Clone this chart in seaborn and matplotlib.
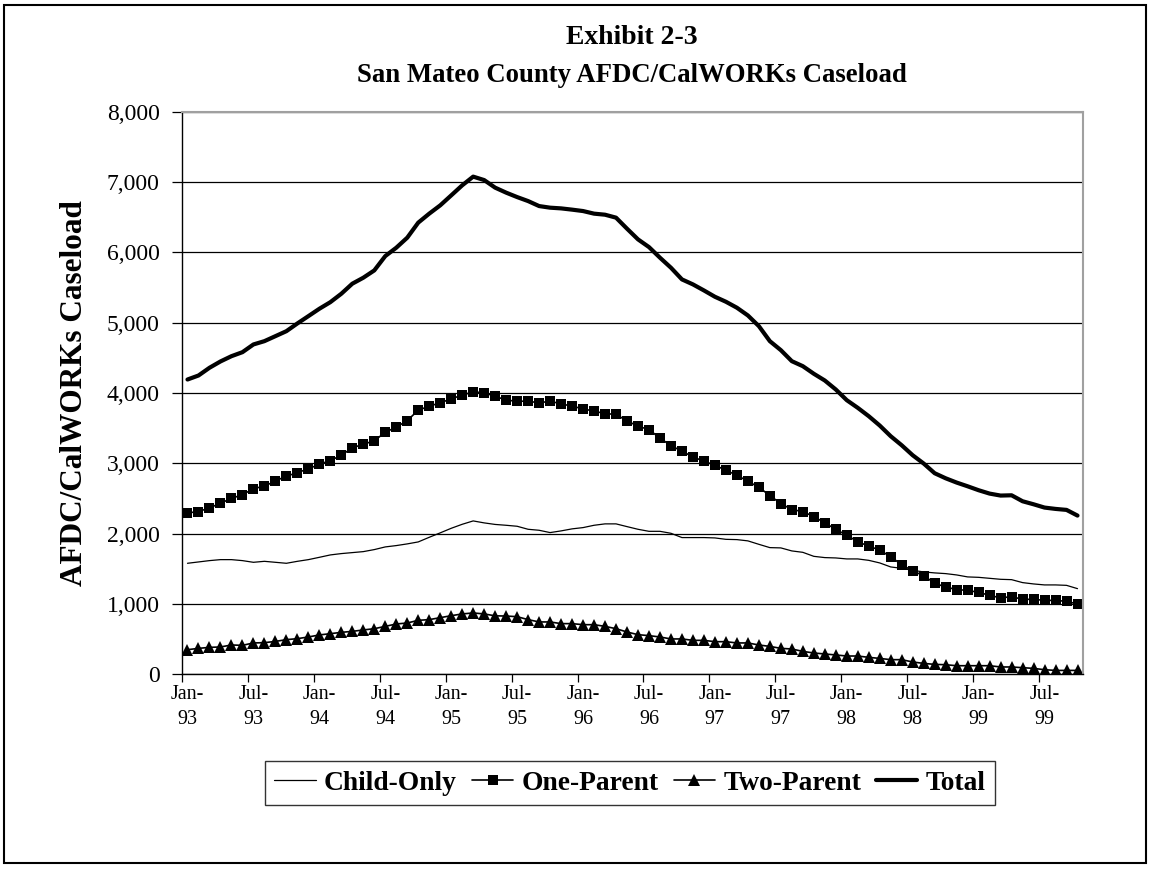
import pandas as pd
import matplotlib
matplotlib.use("Agg")
import matplotlib.pyplot as plt
from matplotlib.patches import Rectangle
from matplotlib.ticker import FuncFormatter
import seaborn as sns

# Monthly caseload, Jan-93 to Oct-99
months = pd.date_range("1993-01-01", periods=82, freq="MS").strftime("%b-%y").tolist()

child_only = [1576, 1595, 1614, 1628, 1628, 1614, 1590, 1604, 1590, 1576,
              1604, 1628, 1661, 1695, 1714, 1728, 1742, 1771, 1809, 1828,
              1852, 1880, 1946, 2009, 2074, 2131, 2179, 2151, 2129, 2117,
              2103, 2060, 2046, 2013, 2037, 2066, 2084, 2117, 2137, 2137,
              2098, 2060, 2031, 2031, 2003, 1942, 1942, 1942, 1937, 1917,
              1913, 1895, 1846, 1799, 1795, 1752, 1732, 1675, 1657, 1652,
              1638, 1638, 1618, 1581, 1524, 1504, 1476, 1453, 1439, 1429,
              1410, 1382, 1376, 1362, 1348, 1343, 1301, 1282, 1268, 1268,
              1262, 1215]
one_parent = [2293, 2312, 2365, 2430, 2501, 2550, 2640, 2672, 2749, 2815,
              2867, 2920, 2986, 3038, 3114, 3219, 3271, 3319, 3442, 3513,
              3608, 3755, 3812, 3860, 3917, 3969, 4017, 4003, 3954, 3898,
              3883, 3883, 3860, 3883, 3846, 3812, 3775, 3741, 3708, 3694,
              3604, 3527, 3480, 3356, 3252, 3171, 3091, 3028, 2972, 2900,
              2829, 2744, 2658, 2540, 2426, 2341, 2312, 2241, 2151, 2060,
              1974, 1885, 1818, 1766, 1667, 1557, 1467, 1400, 1291, 1239,
              1201, 1191, 1162, 1120, 1083, 1101, 1063, 1063, 1048, 1048,
              1034, 997]
two_parent = [346, 365, 379, 385, 413, 408, 442, 446, 464, 489,
              503, 527, 556, 574, 593, 607, 627, 645, 678, 712,
              726, 764, 774, 802, 830, 855, 869, 855, 828, 825,
              816, 774, 741, 741, 717, 717, 702, 702, 678, 645,
              598, 560, 546, 527, 499, 499, 479, 479, 460, 460,
              442, 442, 413, 393, 365, 356, 322, 299, 285, 271,
              256, 256, 237, 222, 204, 204, 171, 151, 137, 132,
              118, 118, 118, 118, 100, 100, 90, 80, 61, 51,
              51, 51]
total = [4192, 4249, 4359, 4449, 4524, 4581, 4691, 4738, 4809, 4880,
         4990, 5094, 5199, 5293, 5413, 5556, 5641, 5745, 5949, 6068,
         6211, 6425, 6553, 6671, 6813, 6956, 7080, 7031, 6923, 6852,
         6789, 6732, 6661, 6638, 6628, 6610, 6590, 6553, 6538, 6496,
         6339, 6187, 6077, 5926, 5783, 5617, 5546, 5460, 5370, 5299,
         5214, 5104, 4952, 4738, 4610, 4453, 4382, 4274, 4178, 4050,
         3898, 3789, 3670, 3537, 3385, 3256, 3114, 2996, 2858, 2786,
         2725, 2672, 2616, 2568, 2540, 2544, 2459, 2416, 2369, 2350,
         2336, 2255]

y_ticks = [0, 1000, 2000, 3000, 4000, 5000, 6000, 7000, 8000]

sns.set_style("white")
plt.rcParams["font.family"] = ["Liberation Serif", "DejaVu Serif"]
plt.rcParams["text.color"] = "black"
plt.rcParams["axes.labelcolor"] = "black"
plt.rcParams["xtick.color"] = "black"
plt.rcParams["ytick.color"] = "black"

df = pd.DataFrame({"pos": range(len(months)), "month": months,
                   "Child-Only": child_only, "One-Parent": one_parent,
                   "Two-Parent": two_parent, "Total": total})

W, H = 1151, 869
fig = plt.figure(figsize=(W / 100, H / 100), dpi=100)
ax = fig.add_axes([182 / W, 1 - 674 / H, (1083 - 182) / W, (674 - 112) / H])

# series styles
sns.lineplot(data=df, x="pos", y="Child-Only", ax=ax, color="black",
             linewidth=0.9, label="Child-Only")
sns.lineplot(data=df, x="pos", y="One-Parent", ax=ax, color="black",
             linewidth=1.2, marker="s", markersize=7, markeredgewidth=0,
             label="One-Parent")
sns.lineplot(data=df, x="pos", y="Two-Parent", ax=ax, color="black",
             linewidth=1.2, marker="^", markersize=8, markeredgewidth=0,
             label="Two-Parent")
sns.lineplot(data=df, x="pos", y="Total", ax=ax, color="black",
             linewidth=3, label="Total")

ax.set_xlim(-0.5, len(months) - 0.5)
ax.set_ylim(0, 8000)
ax.set_yticks(y_ticks)
ax.yaxis.set_major_formatter(FuncFormatter(lambda v, p: f"{int(v):,}"))
ax.grid(axis="y", color="black", linewidth=0.9)
ax.grid(axis="x", visible=False)

# labels every 6 months, tick marks on the category boundaries
lab_pos = list(range(0, len(months), 6))
ax.set_xticks(lab_pos)
ax.set_xticklabels([months[i].replace("-", "-\n") for i in lab_pos],
                   linespacing=1.45)
ax.set_xticks([p - 0.5 for p in lab_pos], minor=True)
ax.tick_params(axis="x", which="major", length=0, pad=8, labelsize=14.5)
ax.tick_params(axis="x", which="minor", length=6, width=0.9, direction="out",
               color="black", bottom=True)
ax.tick_params(axis="y", length=7, width=0.9, direction="out", pad=9,
               labelsize=17, color="black", left=True)

for s in ["left", "bottom"]:
    ax.spines[s].set_color("black")
    ax.spines[s].set_linewidth(1)
for s in ["top", "right"]:
    ax.spines[s].set_color("#a0a0a0")
    ax.spines[s].set_linewidth(1.5)

ax.set_xlabel("")
ax.set_ylabel("AFDC/CalWORKs Caseload", fontsize=22.5, fontweight="bold",
              va="center")
ax.yaxis.set_label_coords((75 - 182) / (1083 - 182), 0.5)

fig.text(632 / W, 1 - 38 / H, "Exhibit 2-3", ha="center", va="center",
         fontsize=20, fontweight="bold")
fig.text(632 / W, 1 - 76 / H, "San Mateo County AFDC/CalWORKs Caseload",
         ha="center", va="center", fontsize=19.3, fontweight="bold")

ax.legend().remove()
handles, labels = ax.get_legend_handles_labels()
leg = fig.legend(handles, labels, loc="center", ncol=4,
                 bbox_to_anchor=(630 / W, 1 - 783 / H), frameon=True,
                 fancybox=False, edgecolor="black", handlelength=1.5,
                 handletextpad=0.3, columnspacing=0.55, borderpad=0.35,
                 prop={"weight": "bold", "size": 19.8})
leg.get_frame().set_linewidth(1)

# outer chart frame
fig.patches.append(Rectangle((4 / W, 6 / H), (1146 - 4) / W, (864 - 6) / H,
                             transform=fig.transFigure, fill=False,
                             edgecolor="black", linewidth=1.5))

plt.savefig("out.png", dpi=100)
plt.close()
